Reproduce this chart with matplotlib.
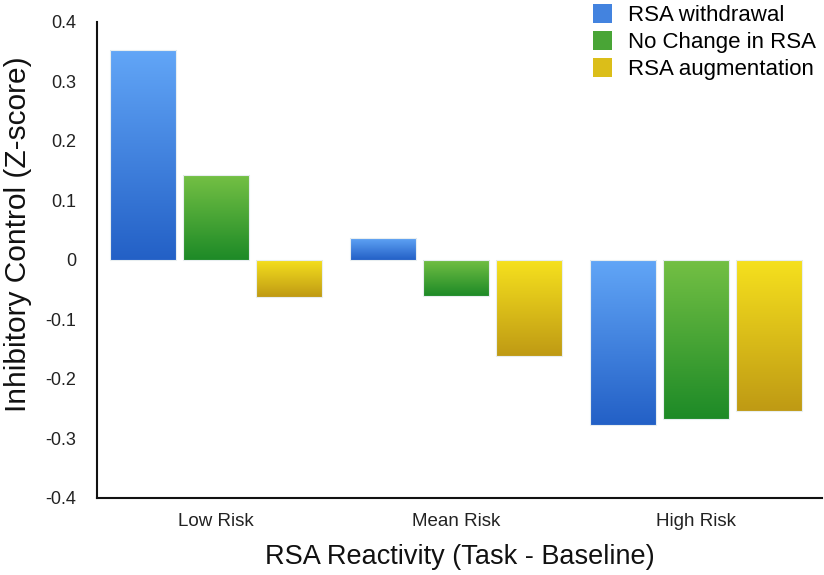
import numpy as np
import matplotlib.pyplot as plt
from matplotlib.colors import LinearSegmentedColormap
from matplotlib.patches import Patch

plt.rcParams['font.family'] = ['Liberation Sans', 'DejaVu Sans']

groups = ['Low Risk', 'Mean Risk', 'High Risk']
series = ['RSA withdrawal', 'No Change in RSA', 'RSA augmentation']
withdrawal = [0.352, 0.037, -0.278]
no_change = [0.142, -0.061, -0.268]
augmentation = [-0.063, -0.161, -0.254]

# top colour, bottom colour for each series
grads = [('#62a6f7', '#2360c6'), ('#74c044', '#1d8a27'), ('#f6e11e', '#bf9a14')]

fig, ax = plt.subplots(figsize=(8.24, 5.75), dpi=100)
fig.subplots_adjust(left=0.118, right=0.998, top=0.962, bottom=0.134)

x = np.arange(len(groups))
width = 0.275
step = 0.304
grad = np.linspace(1, 0, 256).reshape(-1, 1)

for i, (vals, (top, bot)) in enumerate(zip([withdrawal, no_change, augmentation], grads)):
    cmap = LinearSegmentedColormap.from_list('g%d' % i, [bot, top])
    bars = ax.bar(x + (i - 1) * step, vals, width, color='none',
                  edgecolor='none')
    for b in bars:
        x0, y0 = b.get_x(), b.get_y()
        w, h = b.get_width(), b.get_height()
        y_lo, y_hi = min(y0, y0 + h), max(y0, y0 + h)
        im = ax.imshow(grad, cmap=cmap, aspect='auto', vmin=0, vmax=1,
                       extent=(x0, x0 + w, y_lo, y_hi), origin='upper',
                       zorder=2)
        im.set_clip_path(b)
        ax.bar(b.get_x() + w / 2, h, w, bottom=y0, color='none',
               edgecolor='#e8eef0', linewidth=0.8, zorder=3)

ax.set_xlim(-0.496, 2.525)
ax.set_ylim(-0.4, 0.4)
ax.set_yticks(np.arange(-0.4, 0.41, 0.1))
ax.set_yticklabels(['-0.4', '-0.3', '-0.2', '-0.1', '0', '0.1', '0.2', '0.3', '0.4'])
ax.set_xticks(x)
ax.set_xticklabels(groups)
ax.tick_params(axis='both', length=0, labelsize=13, colors='#222222')
ax.tick_params(axis='x', labelsize=13.5, pad=11)
ax.tick_params(axis='y', pad=15)

for s in ['top', 'right']:
    ax.spines[s].set_visible(False)
for s in ['left', 'bottom']:
    ax.spines[s].set_linewidth(1.5)
    ax.spines[s].set_color('#111111')

ax.set_xlabel('RSA Reactivity (Task - Baseline)', fontsize=19.5, labelpad=10,
              color='#111111')
ax.set_ylabel('Inhibitory Control (Z-score)', fontsize=21.5, color='#111111')
ax.yaxis.set_label_coords(-0.09, 0.555)

handles = [Patch(facecolor=LinearSegmentedColormap.from_list('h', [b, t])(0.5),
                 edgecolor='none') for t, b in grads]
ax.legend(handles, series, loc='upper right', bbox_to_anchor=(1.01, 1.065),
          frameon=False, fontsize=16, handlelength=0.85, handleheight=0.95,
          handletextpad=0.75, labelspacing=0.2, borderaxespad=0.2)

fig.savefig('out.png', dpi=100)
